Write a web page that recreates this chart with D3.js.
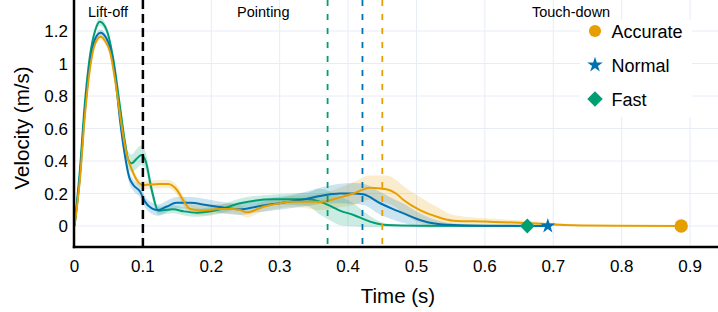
<!DOCTYPE html>
<html>
<head>
<meta charset="utf-8">
<script src="https://cdn.jsdelivr.net/npm/d3@7"></script>
<style>
  html, body { margin: 0; padding: 0; background: #fff; }
  svg { display: block; font-family: "Liberation Sans", Arial, Helvetica, sans-serif; }
</style>
</head>
<body>
<svg id="chart" width="718" height="312"></svg>
<script>
// ---------------- data ----------------
const seriesNames = ["Accurate", "Normal", "Fast"];

const accTime = [0, 0.008, 0.015, 0.022, 0.03, 0.038, 0.046, 0.052, 0.06, 0.067, 0.076, 0.084, 0.091, 0.1, 0.11, 0.125, 0.137, 0.15, 0.16, 0.169, 0.19, 0.21, 0.23, 0.242, 0.252, 0.276, 0.3, 0.315, 0.339, 0.359, 0.388, 0.408, 0.432, 0.456, 0.47, 0.481, 0.505, 0.53, 0.554, 0.6, 0.65, 0.7, 0.75, 0.8, 0.887];
const accMean = [0, 0.29, 0.67, 0.95, 1.12, 1.165, 1.13, 1.07, 0.88, 0.67, 0.447, 0.345, 0.283, 0.252, 0.255, 0.258, 0.258, 0.22, 0.15, 0.105, 0.095, 0.105, 0.105, 0.098, 0.084, 0.119, 0.14, 0.15, 0.15, 0.148, 0.176, 0.2, 0.236, 0.226, 0.2, 0.16, 0.098, 0.057, 0.033, 0.027, 0.02, 0.01, 0.003, 0.001, 0];
const accSd   = [0, 0.02, 0.02, 0.02, 0.02, 0.02, 0.02, 0.02, 0.02, 0.02, 0.02, 0.025, 0.025, 0.025, 0.025, 0.025, 0.025, 0.03, 0.03, 0.03, 0.03, 0.03, 0.03, 0.03, 0.03, 0.03, 0.03, 0.035, 0.04, 0.05, 0.06, 0.07, 0.075, 0.085, 0.085, 0.085, 0.08, 0.06, 0.035, 0.02, 0.015, 0.01, 0.003, 0, 0];

const norTime = [0, 0.008, 0.015, 0.022, 0.03, 0.038, 0.046, 0.052, 0.06, 0.0665, 0.074, 0.08, 0.086, 0.096, 0.103, 0.113, 0.1226, 0.135, 0.149, 0.169, 0.193, 0.215, 0.242, 0.266, 0.29, 0.315, 0.34, 0.359, 0.388, 0.408, 0.422, 0.447, 0.465, 0.481, 0.5, 0.52, 0.554, 0.6, 0.692];
const norMean = [0, 0.31, 0.7, 0.98, 1.15, 1.19, 1.16, 1.1, 0.9, 0.652, 0.426, 0.3, 0.252, 0.211, 0.15, 0.109, 0.098, 0.12, 0.143, 0.143, 0.129, 0.115, 0.103, 0.119, 0.135, 0.15, 0.168, 0.185, 0.2, 0.2, 0.195, 0.14, 0.105, 0.078, 0.045, 0.02, 0.006, 0.002, 0];
const norSd   = [0, 0.02, 0.02, 0.02, 0.02, 0.02, 0.02, 0.02, 0.02, 0.025, 0.03, 0.035, 0.035, 0.035, 0.035, 0.035, 0.035, 0.035, 0.035, 0.035, 0.035, 0.035, 0.035, 0.035, 0.04, 0.04, 0.045, 0.05, 0.06, 0.065, 0.065, 0.07, 0.065, 0.06, 0.045, 0.03, 0.01, 0.005, 0];

const fasTime = [0, 0.008, 0.015, 0.022, 0.03, 0.037, 0.047, 0.057, 0.0665, 0.074, 0.0787, 0.0836, 0.09, 0.098, 0.104, 0.113, 0.1226, 0.144, 0.16, 0.179, 0.208, 0.242, 0.291, 0.339, 0.359, 0.378, 0.388, 0.408, 0.432, 0.456, 0.5, 0.662];
const fasMean = [0, 0.35, 0.75, 1.03, 1.2, 1.257, 1.206, 1.02, 0.734, 0.51, 0.406, 0.386, 0.41, 0.437, 0.4, 0.22, 0.094, 0.103, 0.09, 0.082, 0.098, 0.14, 0.164, 0.164, 0.15, 0.115, 0.095, 0.068, 0.027, 0.006, 0.001, 0];
const fasSd   = [0, 0.02, 0.02, 0.02, 0.025, 0.025, 0.025, 0.025, 0.03, 0.04, 0.05, 0.055, 0.06, 0.06, 0.055, 0.04, 0.025, 0.025, 0.025, 0.025, 0.025, 0.03, 0.03, 0.04, 0.08, 0.09, 0.09, 0.07, 0.035, 0.01, 0.002, 0];

const touchDown = [0.887, 0.692, 0.662];      // Accurate, Normal, Fast
const phaseLines = [0.1, 0.37, 0.421, 0.45];   // Lift-off end, Fast, Normal, Accurate
const phaseLabels = ["Lift-off", "Pointing", "Touch-down"];
const phaseLabelTimes = [0.049, 0.276, 0.726];

const xTicks = [0, 0.1, 0.2, 0.3, 0.4, 0.5, 0.6, 0.7, 0.8, 0.9];
const xTickLabels = ["0", "0.1", "0.2", "0.3", "0.4", "0.5", "0.6", "0.7", "0.8", "0.9"];
const yTicks = [0, 0.2, 0.4, 0.6, 0.8, 1.0, 1.2];
const yTickLabels = ["0", "0.2", "0.4", "0.6", "0.8", "1", "1.2"];

// ---------------- drawing ----------------
const colors = ["#E69F00", "#0072B2", "#009E73"];
const svg = d3.select("#chart");

const x = d3.scaleLinear().domain([0, 0.9]).range([74.5, 690.1]);
const y = d3.scaleLinear().domain([0, 1.2]).range([226, 31]);
const plotLeft = 74, plotRight = 718, plotTop = 0, plotBottom = 247;

const series = [
  {name: seriesNames[0], t: accTime, m: accMean, s: accSd},
  {name: seriesNames[1], t: norTime, m: norMean, s: norSd},
  {name: seriesNames[2], t: fasTime, m: fasMean, s: fasSd}
].map((d, i) => ({...d, color: colors[i], pts: d.t.map((tt, j) => ({t: tt, m: d.m[j], s: d.s[j]}))}));

const gridColor = "#e7ecf6";
const g = svg.append("g");

// grid
g.selectAll(".vg").data(xTicks.slice(1)).join("line")
  .attr("x1", d => x(d)).attr("x2", d => x(d))
  .attr("y1", plotTop).attr("y2", plotBottom)
  .attr("stroke", gridColor).attr("stroke-width", 1);
g.selectAll(".hg").data(yTicks).join("line")
  .attr("x1", plotLeft).attr("x2", plotRight)
  .attr("y1", d => y(d)).attr("y2", d => y(d))
  .attr("stroke", gridColor).attr("stroke-width", 1);

// bands and mean lines
const area = d3.area().x(d => x(d.t)).y0(d => y(d.m - d.s)).y1(d => y(d.m + d.s)).curve(d3.curveMonotoneX);
const line = d3.line().x(d => x(d.t)).y(d => y(d.m)).curve(d3.curveMonotoneX);

series.forEach(s => {
  g.append("path").attr("d", area(s.pts)).attr("fill", s.color).attr("fill-opacity", 0.2).attr("stroke", "none");
});
series.slice().reverse().forEach(s => {
  g.append("path").attr("d", line(s.pts)).attr("fill", "none").attr("stroke", s.color).attr("stroke-width", 2);
});

// phase lines
const phaseColors = ["#000000", colors[2], colors[1], colors[0]];
phaseLines.forEach((p, i) => {
  g.append("line")
    .attr("x1", x(p)).attr("x2", x(p)).attr("y1", plotTop).attr("y2", plotBottom)
    .attr("stroke", phaseColors[i])
    .attr("stroke-width", i === 0 ? 2.5 : 1.8)
    .attr("stroke-dasharray", i === 0 ? "9,5" : "6,8");
});

// touch-down markers
const markerSymbols = [d3.symbolCircle, d3.symbolStar, d3.symbolSquare];
const markerSizes = [140, 70, 110];
const markerRot = [0, 0, 45];
touchDown.forEach((t, i) => {
  g.append("path")
    .attr("d", d3.symbol(markerSymbols[i], markerSizes[i])())
    .attr("transform", `translate(${x(t)},${y(0)}) rotate(${markerRot[i]})`)
    .attr("fill", colors[i]);
});

// axis lines
g.append("line").attr("x1", plotLeft).attr("x2", plotLeft).attr("y1", plotTop).attr("y2", plotBottom + 1.2)
  .attr("stroke", "#000").attr("stroke-width", 2.5);
g.append("line").attr("x1", plotLeft - 1.2).attr("x2", plotRight).attr("y1", plotBottom).attr("y2", plotBottom)
  .attr("stroke", "#000").attr("stroke-width", 2.5);

// tick labels
g.selectAll(".xt").data(xTicks).join("text")
  .attr("x", d => x(d)).attr("y", 271.5)
  .attr("text-anchor", "middle").attr("font-size", 17).attr("fill", "#000")
  .text((d, i) => xTickLabels[i]);
g.selectAll(".yt").data(yTicks).join("text")
  .attr("x", 68).attr("y", d => y(d) + 6)
  .attr("text-anchor", "end").attr("font-size", 17).attr("fill", "#000")
  .text((d, i) => yTickLabels[i]);

// axis titles
svg.append("text").attr("x", 398).attr("y", 303).attr("text-anchor", "middle")
  .attr("font-size", 20.5).attr("fill", "#000").text("Time (s)");
svg.append("text").attr("transform", "translate(29,128) rotate(-90)").attr("text-anchor", "middle")
  .attr("font-size", 20.5).attr("fill", "#000").text("Velocity (m/s)");

// phase labels
phaseLabels.forEach((lab, i) => {
  svg.append("text").attr("x", x(phaseLabelTimes[i])).attr("y", 16.5).attr("text-anchor", "middle")
    .attr("font-size", 14.5).attr("fill", "#000").text(lab);
});

// legend
const leg = svg.append("g");
leg.append("rect").attr("x", 580).attr("y", 20).attr("width", 112).attr("height", 97).attr("fill", "#fff");
seriesNames.forEach((n, i) => {
  const yy = 31 + i * 34;
  leg.append("path")
    .attr("d", d3.symbol(markerSymbols[i], [115, 75, 120][i])())
    .attr("transform", `translate(595,${yy}) rotate(${markerRot[i]})`)
    .attr("fill", colors[i]);
  leg.append("text").attr("x", 611.5).attr("y", yy + 6.5).attr("font-size", 18).attr("fill", "#000").text(n);
});
</script>
</body>
</html>
